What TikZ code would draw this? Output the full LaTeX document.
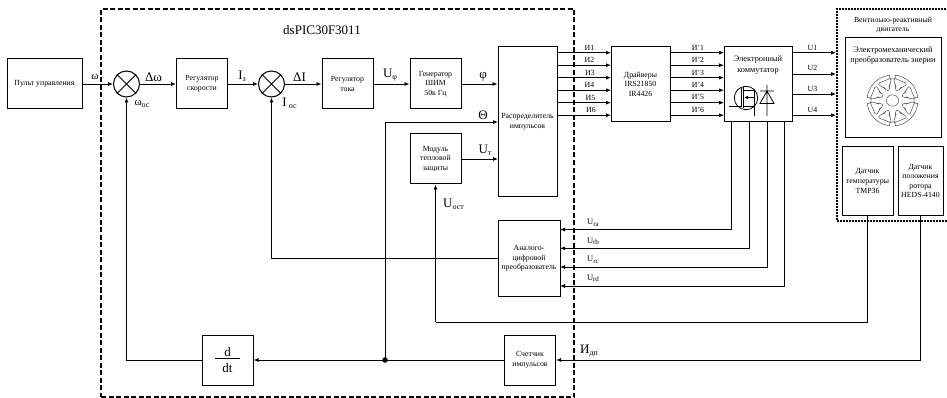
\documentclass[tikz,border=0pt]{standalone}
\usepackage{fontspec}
\setmainfont{Liberation Serif}
\usetikzlibrary{arrows.meta,calc}
\newcommand{\smalltxt}{\fontsize{7.8}{9.6}\selectfont}
\newcommand{\bigtxt}{\fontsize{13}{14}\selectfont}
\newcommand{\midtxt}{\fontsize{8.3}{10.5}\selectfont}
\tikzset{
  box/.style={draw,line width=1pt,inner sep=0pt,align=center,font=\smalltxt},
  sumnode/.style={draw,circle,line width=1pt,minimum size=26pt,inner sep=0pt},
  conn/.style={line width=.85pt},
  arr/.style={conn,-{Latex[length=5pt,width=4pt]}},
  biglab/.style={font=\bigtxt,inner sep=0pt},
  sig/.style={font=\smalltxt,inner sep=0pt},
  rotorline/.style={line width=.5pt,black!70},
}
\begin{document}
\begin{tikzpicture}[x=1pt,y=-1pt]
\useasboundingbox (0,0) rectangle (947,398);
% enclosures
\node[draw,line width=1.4pt,dash pattern=on 5pt off 2.5pt,minimum width=473pt,minimum height=388pt,inner sep=0pt] (mcu) at (337.5,203) {};
\node[draw,line width=1.9pt,dash pattern=on 2pt off 1pt,minimum width=112pt,minimum height=212pt,inner sep=0pt] (motor) at (893,115) {};
% blocks
\node[box,minimum width=75pt,minimum height=50pt] (panel) at (44.5,84) {Пульт управления};
\node[sumnode] (s1) at (126.5,84) {};
\node[box,minimum width=51pt,minimum height=50pt] (regw) at (202,84) {Регулятор\\скорости};
\node[sumnode] (s2) at (271.5,84) {};
\node[box,minimum width=51pt,minimum height=50pt] (regi) at (347.5,84) {Регулятор\\тока};
\node[box,minimum width=51pt,minimum height=50pt] (pwm) at (435.5,84) {Генератор\\ШИМ\\50к Гц};
\node[box,minimum width=59pt,minimum height=150pt] (dist) at (527.5,121.5) {Распределитель\\импульсов};
\node[box,minimum width=51pt,minimum height=50pt] (mod) at (435.5,159) {Модуль\\тепловой\\защиты};
\node[box,minimum width=62pt,minimum height=76pt] (adc) at (529,258.5) {Аналого-\\цифровой\\преобразователь};
\node[box,minimum width=51pt,minimum height=50pt] (cnt) at (530,360) {Счетчик\\импульсов};
\node[box,minimum width=51pt,minimum height=50pt] (ddt) at (227.5,360) {};
\node[biglab] (ddtn) at (227.5,352) {d};
\node[biglab] (ddtd) at (227.5,368.5) {dt};
\draw[line width=.6pt] (215,358) -- (240,358);
\node[box,minimum width=59pt,minimum height=75pt] (drv) at (640.5,84) {Драйверы\\IRS21850\\IR4426};
\node[box,minimum width=68pt,minimum height=75pt,anchor=north] (com) at (758,46.5) {};
\node[font=\midtxt,inner sep=0pt,align=center] (comlab) at (758,65) {Электронный\\коммутатор};
\node[box,minimum width=96pt,minimum height=100pt] (emc) at (893,88) {};
\node[font=\midtxt,inner sep=0pt,align=center] (emclab) at (893,55.5) {Электромеханический\\преобразователь энерии};
\node[font=\smalltxt,inner sep=0pt,align=center] (motlab) at (893,25) {Вентильно-реактивный\\двигатель};
\node[box,minimum width=51pt,minimum height=69pt] (temp) at (867.5,181) {Датчик\\температуры\\TMP36};
\node[box,minimum width=45pt,minimum height=69pt] (pos) at (920.5,181) {Датчик\\положения\\ротора\\HEDS-4140};
% sum crosses
\foreach \s in {s1,s2}{
  \draw[line width=1pt] (\s.45) -- (\s.225);
  \draw[line width=1pt] (\s.135) -- (\s.315);
}
% main chain
\draw[arr] (panel.east) -- (s1.west);
\draw[arr] (s1.east) -- (regw.west);
\draw[arr] (regw.east) -- (s2.west);
\draw[arr] (s2.east) -- (regi.west);
\draw[arr] (regi.east) -- (pwm.west);
\draw[arr] (pwm.east) -- (dist.west |- pwm.east);
\node[circle,fill=black,minimum size=5.5pt,inner sep=0pt] (dot) at (385,360) {};
\coordinate (thetain) at (498,122);
\coordinate (utin) at (498,159);
\draw[arr] (dot.center) |- (thetain);
\draw[arr] (mod.east) -- (utin);
\draw[conn] (cnt.west) -- (dot.center);
\draw[arr] (dot.center) -- (ddt.east);
\draw[arr] (ddt.west) -| (s1.south);
\draw[arr] (adc.west) -| (s2.south);
\draw[arr] (pos.south) |- (cnt.east);
\coordinate (ucorner) at (435.5,322);
\draw[conn] (temp.south) |- (ucorner);
\draw[arr] (ucorner) -- (mod.south);
% pulses
\foreach \y [count=\i] in {52.7,65.2,77.7,90.2,102.7,115.2}{
  \coordinate (da\i) at (557,\y);
  \coordinate (db\i) at (611,\y);
  \coordinate (dc\i) at (670,\y);
  \coordinate (dd\i) at (724,\y);
  \draw[arr] (da\i) -- (db\i);
  \draw[arr] (dc\i) -- (dd\i);
}
\foreach \x/\yy/\t in {589.5/48/И1,589.5/60/И2,590/73/И3,589.5/85/И4,590.5/98/И5,591/110/И6}{
  \node[sig] at (\x,\yy) {\t};
}
\foreach \x/\yy/\t in {698/48/И'1,698/60/И'2,698/73/И'3,698/85/И'4,698/97/И'5,698/110/И'6}{
  \node[sig] at (\x,\yy) {\t};
}
% motor phases
\foreach \y/\t/\ly [count=\i] in {52.7/U1/48,74/U2/68,94/U3/89,115.2/U4/110}{
  \coordinate (oa\i) at (792,\y);
  \coordinate (ob\i) at (836,\y);
  \draw[arr] (oa\i) -- (ob\i);
  \node[sig] at (812.5,\ly) {\t};
}
% feedback
\foreach \x/\y/\t/\ly [count=\i] in {731.5/229.5/ra/223,749/248.3/rb/241.5,767/267/rc/260,784.5/286/rd/278.5}{
  \coordinate (fa\i) at (\x,121.5);
  \coordinate (fb\i) at (560,\y);
  \draw[arr] (fa\i) |- (fb\i);
  \node[font=\fontsize{8.5}{10}\selectfont,inner sep=0pt] at (593,\ly) {U\raisebox{-1.5pt}{\fontsize{7}{8}\selectfont \t}};
}
% labels
\node[biglab] at (322,30) {dsPIC30F3011};
\node[font=\fontsize{11}{12}\selectfont,inner sep=0pt] at (95,77) {ω};
\node[biglab] at (153.5,77) {Δω};
\node[font=\fontsize{11}{12}\selectfont,inner sep=0pt] at (142,104) {ω\raisebox{-1.5pt}{\fontsize{8}{9}\selectfont ос}};
\node[biglab] at (242,76) {I\raisebox{-2pt}{\fontsize{8}{9}\selectfont з}};
\node[biglab] at (299.5,77) {ΔI};
\node[biglab] at (289.5,103) {I\,\raisebox{-2pt}{\fontsize{8}{9}\selectfont ос}};
\node[biglab] at (390,75) {U\raisebox{-2pt}{\fontsize{8}{9}\selectfont φ}};
\node[biglab] at (483,77) {φ};
\node[biglab] at (483,115) {Θ};
\node[biglab] at (485,150) {U\raisebox{-2pt}{\fontsize{8}{9}\selectfont т}};
\node[biglab] at (453.5,204) {U\raisebox{-2pt}{\fontsize{8}{9}\selectfont ост}};
\node[biglab] at (589,351) {И\raisebox{-2pt}{\fontsize{8}{9}\selectfont дп}};
% MOSFET and diode
\draw[line width=.8pt] (746,98) circle (11.7);
\draw[line width=.8pt] (729,106.5) -- (741,106.5) (741,88) -- (741,107);
\draw[line width=1.3pt] (743.5,87) -- (743.5,108);
\draw[line width=.8pt,-{Latex[length=4pt,width=3.5pt]}] (754,97.5) -- (744,97.5);
\draw[line width=.8pt] (744,90) -- (754,90) -- (754,116) (744,106) -- (754,106);
\draw[line width=.8pt] (767,85) -- (767,116) (760,91) -- (774,91) (767,91) -- (760,103.5) -- (774,103.5) -- cycle;
% machine cross-section
\coordinate (rc) at (892.5,100.5);
\draw[rotorline] (rc) circle [radius=25.5pt];
\draw[rotorline] (rc) ellipse [x radius=6.2pt,y radius=5.6pt];
\foreach \a in {0,90,180,270}{
  \begin{scope}[shift={(rc)},x=1pt,y=1pt,rotate=\a]
    \fill[white] (24,-2.4) rectangle (27,2.4);
    \draw[rotorline,rounded corners=2pt] (25.5,-2.8) -- (21.5,-2.8) -- (21.5,2.8) -- (25.5,2.8);
  \end{scope}
}
\begin{scope}[shift={(rc)},x=1pt,y=1pt,rotorline]
  \foreach \a in {22.5,67.5,112.5,157.5,202.5,247.5,292.5,337.5}{
    \draw[rounded corners=1.6pt] (\a-10:11) -- (\a+10:11) -- (\a+9:15) -- (\a+15:16.5) -- (\a+19:22.5) -- (\a-19:22.5) -- (\a-15:16.5) -- (\a-9:15) -- cycle;
  }
\end{scope}
\end{tikzpicture}
\end{document}
